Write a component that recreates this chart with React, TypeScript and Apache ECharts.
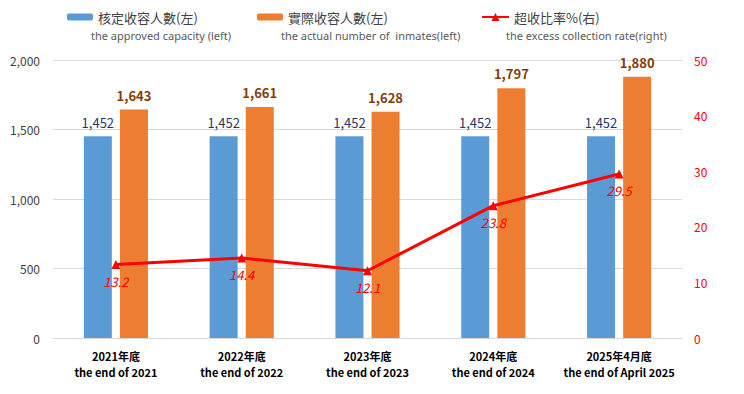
import React, { useEffect, useRef } from "react";
import * as echarts from "echarts";

const categoriesZh = ["2021年底", "2022年底", "2023年底", "2024年底", "2025年4月底"];
const categoriesEn = ["the end of 2021", "the end of 2022", "the end of 2023", "the end of 2024", "the end of April 2025"];
const approvedCapacity = [1452, 1452, 1452, 1452, 1452];
const actualInmates = [1643, 1661, 1628, 1797, 1880];
const excessRate = [13.2, 14.4, 12.1, 23.8, 29.5];
const seriesNamesZh = ["核定收容人數(左)", "實際收容人數(左)", "超收比率%(右)"];
const seriesNamesEn = ["the approved capacity (left)", "the actual number of  inmates(left)", "the excess collection rate(right)"];
const leftTicks = { min: 0, max: 2000, interval: 500 };
const rightTicks = { min: 0, max: 50, interval: 10 };

const FONT = "'Noto Sans CJK TC', 'Noto Sans', sans-serif";
const LATIN = "'Noto Sans', 'DejaVu Sans', sans-serif";

export default function App() {
  const ref = useRef<HTMLDivElement>(null);
  useEffect(() => {
    if (!ref.current) return;
    const chart = echarts.init(ref.current, undefined, { renderer: "svg" });
    const categories = categoriesZh.map((z, i) => z + "\n" + categoriesEn[i]);
    const legendBase = {
      top: 5,
      itemGap: 4,
      textStyle: { color: "#404040", fontSize: 13, lineHeight: 14, fontFamily: FONT },
      selectedMode: false,
    };
    const enStyle = { fontSize: 11, lineHeight: 12, fill: "#595959", fontFamily: LATIN };
    chart.setOption({
      animation: false,
      textStyle: { fontFamily: FONT },
      legend: [
        { ...legendBase, left: 62, itemWidth: 26, itemHeight: 7, data: [seriesNamesZh[0]] },
        { ...legendBase, left: 252, itemWidth: 26, itemHeight: 7, data: [seriesNamesZh[1]] },
        { ...legendBase, left: 476, itemWidth: 27, itemHeight: 10, data: [seriesNamesZh[2]] },
      ],
      graphic: [
        { type: "text", left: 91, top: 29, style: { text: seriesNamesEn[0], ...enStyle } },
        { type: "text", left: 281, top: 29, style: { text: seriesNamesEn[1], ...enStyle } },
        { type: "text", left: 506, top: 29, style: { text: seriesNamesEn[2], ...enStyle } },
      ],
      grid: { left: 53, right: 62, top: 60, bottom: 56 },
      xAxis: {
        type: "category",
        data: categories,
        axisLine: { lineStyle: { color: "#D9D9D9", width: 1 } },
        axisTick: { show: false },
        axisLabel: {
          color: "#000000",
          fontSize: 11,
          fontWeight: "bold",
          lineHeight: 16,
          margin: 10,
          interval: 0,
          fontFamily: FONT,
        },
      },
      yAxis: [
        {
          type: "value",
          min: leftTicks.min,
          max: leftTicks.max,
          interval: leftTicks.interval,
          axisLine: { show: false },
          axisTick: { show: false },
          splitLine: { lineStyle: { color: "#D9D9D9" } },
          axisLabel: {
            color: "#404040",
            fontSize: 12,
            margin: 13,
            formatter: (v: number) => v.toLocaleString("en-US"),
          },
        },
        {
          type: "value",
          min: rightTicks.min,
          max: rightTicks.max,
          interval: rightTicks.interval,
          position: "right",
          axisLine: { show: false },
          axisTick: { show: false },
          splitLine: { show: false },
          axisLabel: { color: "#FF0000", fontSize: 12, margin: 12 },
        },
      ],
      series: [
        {
          name: seriesNamesZh[0],
          type: "bar",
          data: approvedCapacity,
          barWidth: 28,
          barGap: "29%",
          itemStyle: { color: "#5B9BD5" },
          label: {
            show: true,
            position: "top",
            distance: 7,
            color: "#1F3864",
            fontSize: 13,
            formatter: (p: any) => p.value.toLocaleString("en-US"),
          },
        },
        {
          name: seriesNamesZh[1],
          type: "bar",
          data: actualInmates,
          barWidth: 28,
          itemStyle: { color: "#ED7D31" },
          label: {
            show: true,
            position: "top",
            distance: 8,
            color: "#843C0C",
            fontSize: 13,
            fontWeight: "bold",
            formatter: (p: any) => p.value.toLocaleString("en-US"),
          },
        },
        {
          name: seriesNamesZh[2],
          type: "line",
          yAxisIndex: 1,
          data: excessRate,
          symbol: "triangle",
          symbolSize: 9,
          lineStyle: { color: "#FF0000", width: 3 },
          itemStyle: { color: "#FF0000" },
          label: {
            show: true,
            position: "bottom",
            distance: 6,
            color: "#FF0000",
            fontSize: 13,
            fontStyle: "italic",
            formatter: (p: any) => p.value.toFixed(1),
          },
        },
      ],
    });
    return () => chart.dispose();
  }, []);
  return <div ref={ref} style={{ width: 744, height: 394, position: "absolute", left: 0, top: 0 }} />;
}
